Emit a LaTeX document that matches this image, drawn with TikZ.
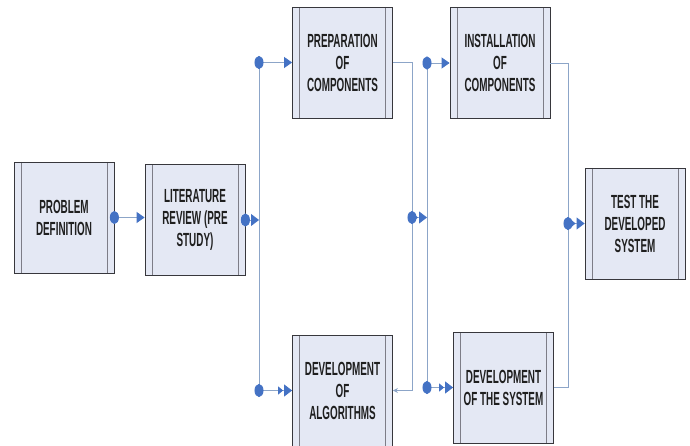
\documentclass[tikz,border=0pt]{standalone}
\usepackage{fontspec}
\setmainfont{Liberation Sans}[FakeStretch=0.52]
\usetikzlibrary{arrows.meta}

\definecolor{boxfill}{RGB}{228,232,244}
\definecolor{boxline}{RGB}{55,55,60}
\definecolor{sideline}{RGB}{125,125,135}
\definecolor{connline}{RGB}{140,165,200}
\definecolor{dotblue}{RGB}{68,114,196}

\begin{document}
\begin{tikzpicture}[x=1pt,y=-1pt]%
\tikzstyle{procbox} = [draw=boxline, fill=boxfill, line width=0.8pt,
    rectangle, minimum width=100pt, minimum height=111pt, inner sep=0pt,
    align=center, text=black!88, font=\bfseries\fontsize{19}{22}\selectfont,
    path picture={\draw[sideline, line width=0.9pt]
      ([xshift=7pt]path picture bounding box.north west) -- ([xshift=7pt]path picture bounding box.south west)
      ([xshift=-7pt]path picture bounding box.north east) -- ([xshift=-7pt]path picture bounding box.south east);}]
\tikzstyle{conn} = [draw=connline, line width=0.9pt]
\tikzstyle{dotline} = [shorten <=-4.5pt, {Ellipse[length=9pt,width=13pt,color=dotblue]}-{Triangle[length=8pt,width=11pt,color=dotblue]}]
\tikzstyle{dotdbl} = [shorten <=-4.5pt, {Ellipse[length=9pt,width=13pt,color=dotblue]}-{Triangle[length=5pt,width=8pt,color=dotblue,sep=1pt]Triangle[length=8pt,width=12pt,color=dotblue]}]

\useasboundingbox (0,0) rectangle (690,446);

\node [procbox] (prob) at (64,217.5) {PROBLEM\\DEFINITION};
\node [procbox] (lit) at (195,220) {LITERATURE\\REVIEW (PRE\\STUDY)};
\node [procbox] (prep) at (342.5,62.5) {PREPARATION\\OF\\COMPONENTS};
\node [procbox] (alg) at (342.5,390.5) {DEVELOPMENT\\OF\\ALGORITHMS};
\node [procbox] (inst) at (500,63) {INSTALLATION\\OF\\COMPONENTS};
\node [procbox] (devsys) at (503.5,387.5) {DEVELOPMENT\\OF THE SYSTEM};
\node [procbox] (test) at (635,223.5) {TEST THE\\DEVELOPED\\SYSTEM};

\coordinate (busA) at (259,0);
\coordinate (busB) at (412,0);
\coordinate (busC) at (427,0);
\coordinate (busD) at (568,0);

\draw[conn, dotline] (prob.east) -- (prob.east -| lit.west);
\draw[conn, dotdbl] (lit.east) -- (lit.east -| busA);
\draw[conn] (busA |- prep.west) -- (busA |- alg.west);
\draw[conn, dotline] (busA |- prep.west) -- (prep.west);
\draw[conn, dotdbl] (busA |- alg.west) -- (alg.west);

\draw[conn, -{Stealth[length=5pt,width=5pt]}] (prep.east) -| (busB |- alg.east) -- (alg.east);
\draw[conn, dotdbl] (busB |- prob.east) -- (busC |- prob.east);
\draw[conn] (busC |- inst.west) -- (busC |- devsys.west);
\draw[conn, dotline] (busC |- inst.west) -- (inst.west);
\draw[conn, dotdbl] (busC |- devsys.west) -- (devsys.west);

\draw[conn] (inst.east) -| (busD |- devsys.east) -- (devsys.east);
\draw[conn, dotdbl] (busD |- test.west) -- (test.west);
\end{tikzpicture}
\end{document}
